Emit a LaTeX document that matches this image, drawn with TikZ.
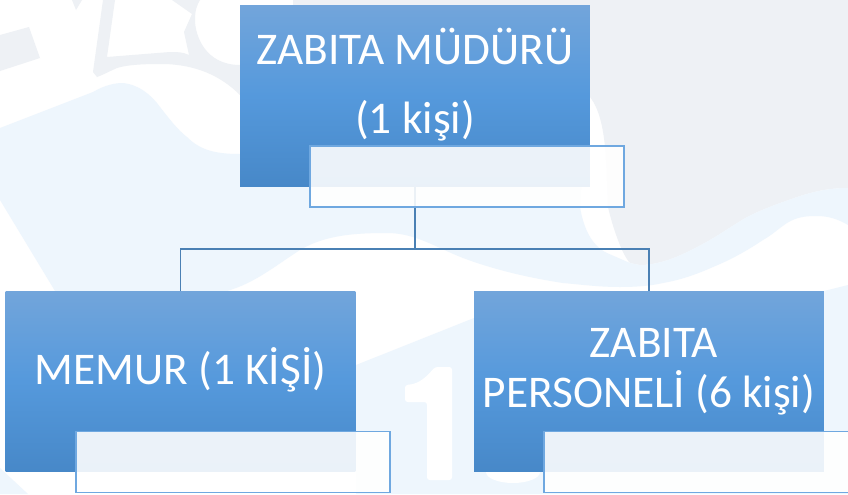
\documentclass[tikz,border=0pt]{standalone}
\usepackage{fontspec}
\setmainfont{Carlito}
\definecolor{wmblue}{HTML}{EEF6FD}
\definecolor{wmgrey}{HTML}{EEF1F5}
\definecolor{boxtop}{HTML}{72A5DB}
\definecolor{boxmid}{HTML}{5599DC}
\definecolor{boxbot}{HTML}{4788C8}
\definecolor{linkcol}{HTML}{4A80B4}
\definecolor{tagline}{HTML}{6FA8E0}
\tikzset{
  x=0.02cm,y=-0.02cm,
  rolebox/.style={rectangle,minimum width=7cm,minimum height=3.62cm,inner sep=0pt,
    top color=boxtop,bottom color=boxbot,middle color=boxmid,text=white,align=center,
    text depth=17.5pt,font=\fontsize{25.8}{30}\selectfont},
  tagbox/.style={rectangle,minimum width=6.28cm,minimum height=1.22cm,inner sep=0pt,
    draw=tagline,line width=0.65pt,fill=white,fill opacity=0.89},
  link/.style={draw=linkcol,line width=0.62pt},
}
\begin{document}
\begin{tikzpicture}
\useasboundingbox (0,0) rectangle (848,494);
\fill[white] (0,0) rectangle (848,494);
% watermark
\fill[wmgrey] (293,0) -- (848,0) -- (848,188) .. controls (830,188) and (815,191) .. (797,197)
  .. controls (780,203) and (765,208) .. (747,217) .. controls (730,227) and (715,238) .. (697,247)
  .. controls (680,256) and (660,265) .. (640,265) -- (630,263)
  .. controls (622,255) and (612,225) .. (608,207) .. controls (606,170) and (608,120) .. (590,97)
  -- (590,5) -- (293,5) -- cycle;
\fill[wmblue] (0,128) -- (93,92) .. controls (105,85) and (115,83) .. (123,83)
  .. controls (140,85) and (150,95) .. (157,103) .. controls (170,120) and (178,130) .. (187,137)
  .. controls (200,150) and (215,154) .. (240,154) -- (583,154) -- (580,207)
  .. controls (583,225) and (590,245) .. (607,253) -- (630,263) -- (640,265)
  .. controls (660,265) and (680,256) .. (697,247) .. controls (715,238) and (730,227) .. (747,217)
  .. controls (765,208) and (780,203) .. (797,197) .. controls (815,191) and (830,188) .. (848,188)
  -- (848,225) .. controls (838,219) and (828,216) .. (817,216)
  .. controls (805,216) and (797,217) .. (787,223) .. controls (778,229) and (772,235) .. (763,240)
  .. controls (745,252) and (730,260) .. (713,267) .. controls (695,275) and (680,280) .. (663,283)
  .. controls (650,286) and (635,287) .. (620,287) .. controls (600,287) and (585,285) .. (563,283)
  .. controls (530,278) and (495,270) .. (463,258) .. controls (435,247) and (415,233) .. (387,233)
  .. controls (355,233) and (325,235) .. (300,250) .. controls (275,266) and (255,283) .. (227,291)
  -- (55,291) -- (0,200) -- cycle;
\fill[wmblue] (356,365) -- (474,318) -- (540,295) -- (824,291) -- (848,285) -- (848,494) -- (356,494) -- cycle;
\fill[wmgrey] (0,35) -- (29,27) -- (40,58) -- (0,71) -- cycle;
\fill[wmgrey] (103,0) -- (93,72) -- (97,77) .. controls (105,74) and (110,71) .. (117,68)
  .. controls (130,64) and (150,64) .. (165,64) .. controls (195,65) and (220,75) .. (240,95)
  -- (240,65) .. controls (205,65) and (195,35) .. (195,20) .. controls (195,10) and (197,5) .. (200,0)
  -- (172,0) -- (192,14) -- (184,32) -- (189,55) .. controls (183,52) and (177,52) .. (170,52)
  -- (107,57) -- (115,0) -- cycle;
\fill[wmgrey] (72,0) -- (76,10) -- (82,0) -- cycle;
\fill[white,rounded corners=1.5pt] (452,367) -- (452,480) -- (427,480) -- (427,402) -- (405,402) -- (405,385)
  .. controls (420,384) and (427,376) .. (435,367) -- cycle;
\fill[white] (513,472) ellipse [x radius=27,y radius=11];
\fill[wmblue] (0,468) -- (28,494) -- (0,494) -- cycle;
% org chart
\node[rolebox] (chief) at (415,96) {ZABITA MÜDÜRÜ\\[9.3pt](1 kişi)};
\node[rolebox] (clerk) at (180.5,381.5) {MEMUR (1 KİŞİ)};
\node[rolebox,text depth=15.5pt] (staff) at (649,381.5) {\hspace*{5.7pt}ZABITA\\[-1.6pt]PERSONELİ (6 kişi)};
\coordinate (bus) at (415,249);
\draw[link] (chief.south) -- (bus);
\draw[link] (clerk.north) |- (bus) -| (staff.north);
\node[tagbox] (chieftag) at (467,176.5) {};
\node[tagbox] (clerktag) at (233,462) {};
\node[tagbox] (stafftag) at (701,462) {};
\end{tikzpicture}
\end{document}
